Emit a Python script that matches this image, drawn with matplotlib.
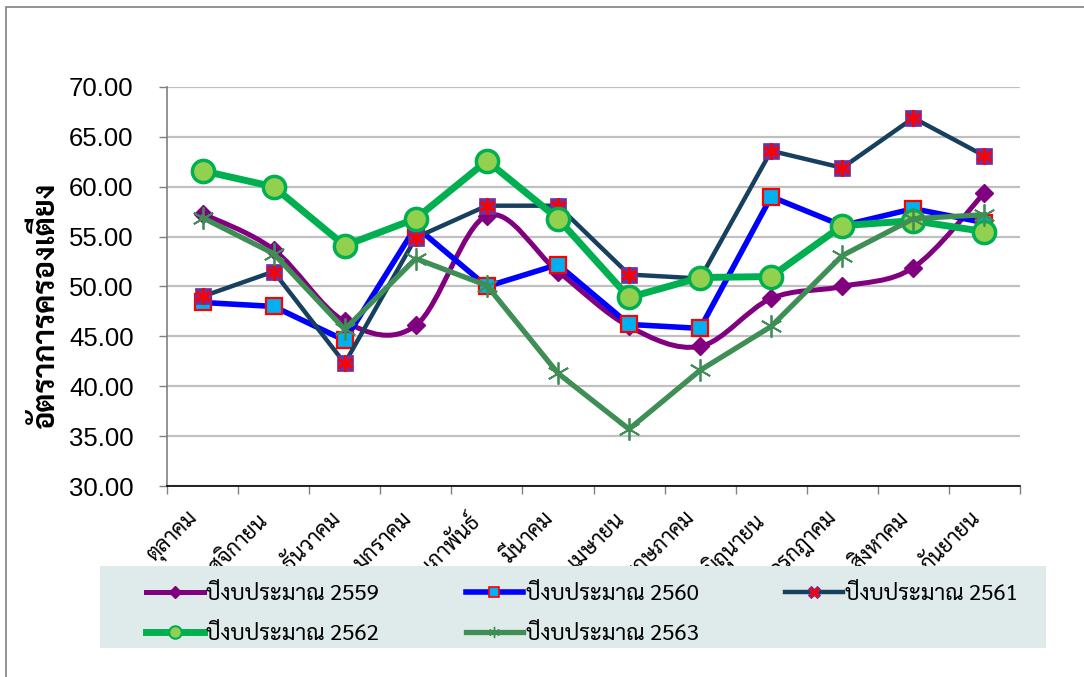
import matplotlib
matplotlib.use("Agg")
import matplotlib.pyplot as plt
from matplotlib.path import Path
from matplotlib.patches import PathPatch, Rectangle
from matplotlib.lines import Line2D
import numpy as np

months = ['ตุลาคม', 'พฤศจิกายน', 'ธันวาคม', 'มกราคม', 'กุมภาพันธ์', 'มีนาคม',
          'เมษายน', 'พฤษภาคม', 'มิถุนายน', 'กรกฎาคม', 'สิงหาคม', 'กันยายน']
y2559 = [57.3, 53.7, 46.5, 46.1, 57.1, 51.5, 46.0, 44.0, 48.8, 50.0, 51.9, 59.4]
y2560 = [48.4, 48.0, 44.6, 56.0, 50.0, 52.2, 46.2, 45.8, 59.0, 56.1, 57.8, 56.4]
y2561 = [49.0, 51.5, 42.3, 54.9, 58.1, 58.1, 51.2, 50.8, 63.6, 61.9, 66.9, 63.1]
y2562 = [61.6, 60.0, 54.1, 56.8, 62.6, 56.8, 48.9, 50.9, 51.0, 56.1, 56.6, 55.5]
y2563 = [56.9, 53.3, 45.7, 52.8, 50.1, 41.3, 35.7, 41.6, 46.0, 53.1, 56.8, 57.2]
labels = ['ปีงบประมาณ 2559', 'ปีงบประมาณ 2560', 'ปีงบประมาณ 2561',
          'ปีงบประมาณ 2562', 'ปีงบประมาณ 2563']
y_label = 'อัตราการครองเตียง'
y_ticks = [30, 35, 40, 45, 50, 55, 60, 65, 70]

thai_text = ['Sarabun', 'Noto Sans Thai Looped', 'DejaVu Sans']

fig = plt.figure(figsize=(10.84, 6.77), dpi=100)
fig.patch.set_facecolor('white')
ax = fig.add_axes([167/1084, 1-486/677, (1020-167)/1084, (486-87)/677])

x = np.arange(len(months))

# smooth purple series (Catmull-Rom bezier path, like Excel's smoothed line)
P = np.column_stack([x, y2559]).astype(float)
verts = [tuple(P[0])]
codes = [Path.MOVETO]
n = len(P)
for i in range(n - 1):
    p0 = P[i - 1] if i > 0 else P[i]
    p1 = P[i]
    p2 = P[i + 1]
    p3 = P[i + 2] if i + 2 < n else P[i + 1]
    c1 = p1 + (p2 - p0) / 6.0
    c2 = p2 - (p3 - p1) / 6.0
    verts += [tuple(c1), tuple(c2), tuple(p2)]
    codes += [Path.CURVE4] * 3
ax.add_patch(PathPatch(Path(verts, codes), fill=False, edgecolor='#800080', lw=3.6,
                       zorder=3, capstyle='round'))
ax.plot(x, y2559, ls='none', marker='D', ms=9, color='#800080', zorder=3.1)

ax.plot(x, y2560, color='#0000FF', lw=4, marker='s', ms=11, mfc='#00B0F0', mec='#FF0000',
        mew=1.6, zorder=4)

ax.plot(x, y2561, color='#17405E', lw=3.2, marker='s', ms=11, mfc='#7030A0', mec='#7030A0',
        mew=0.5, zorder=5)
ax.plot(x, y2561, ls='none', marker=(6, 2, 0), ms=12, mec='#FF0000', mew=2, zorder=5.1)

ax.plot(x, y2562, color='#00B050', lw=5, marker='o', ms=16, mfc='#92D050', mec='#00B050',
        mew=2.5, zorder=6)

ax.plot(x, y2563, color='#3F8E55', lw=3.8, marker=(6, 2, 0), ms=16, mec='#3F8E55',
        mew=1.3, zorder=7)

ax.set_xlim(-0.5, len(months) - 0.5)
ax.set_ylim(30, 70)
ax.set_yticks(y_ticks)
ax.set_yticklabels([f'{v:.2f}' for v in y_ticks], fontsize=18.5, family='Liberation Sans')
ax.yaxis.grid(True, color='#C0C0C0', lw=1.6)
ax.set_axisbelow(True)
ax.tick_params(axis='y', direction='out', length=6, width=1, color='#808080', pad=18)

ax.set_xticks(np.arange(len(months) + 1) - 0.5)
ax.set_xticklabels([])
ax.tick_params(axis='x', which='major', direction='out', length=6, width=1, color='#808080')
ax.set_xticks(x, minor=True)
ax.set_xticklabels(months, minor=True, rotation=45, ha='right', va='top',
                   fontsize=15.5, family=thai_text)
ax.tick_params(axis='x', which='minor', length=0, pad=16)
for lbl in ax.get_xticklabels(minor=True):
    lbl.set_x(lbl.get_position()[0])

for s in ['top', 'right']:
    ax.spines[s].set_visible(False)
ax.spines['left'].set_color('#808080')
ax.spines['bottom'].set_color('#000000')
ax.spines['left'].set_linewidth(1.2)
ax.spines['bottom'].set_linewidth(1.2)

fig.text(46/1084, 1-305/677, y_label, rotation=90, ha='center', va='center',
         fontsize=22, fontweight='bold', family=thai_text)

# legend background
fig.patches.append(Rectangle((100/1084, 1-648/677), (1046-100)/1084, (648-566)/677,
                             transform=fig.transFigure, facecolor='#DFEAEA',
                             edgecolor='none', zorder=5))
# figure border
fig.patches.append(Rectangle((6/1084, -0.1), 2, 1.1 - 7/677, transform=fig.transFigure,
                             facecolor='none', edgecolor='#808080', lw=1.2, zorder=10,
                             clip_on=False))

h = [
    Line2D([], [], color='#800080', lw=3.6, marker='D', ms=6, mfc='#800080', mec='#800080'),
    Line2D([], [], color='#0000FF', lw=4, marker='s', ms=7, mfc='#00B0F0', mec='#FF0000', mew=1.2),
    Line2D([], [], color='#17405E', lw=3.2, marker='X', ms=8, mfc='#FF0000', mec='#7030A0', mew=0.8),
    Line2D([], [], color='#00B050', lw=5, marker='o', ms=9, mfc='#92D050', mec='#00B050', mew=1.5),
    Line2D([], [], color='#3F8E55', lw=3.8, marker=(6, 2, 0), ms=8, mec='#3F8E55', mew=1),
]
order = [0, 3, 1, 4, 2]
leg = fig.legend([h[i] for i in order], [labels[i] for i in order], ncol=3,
                 loc='upper left', bbox_to_anchor=(146/1084, 1-584/677),
                 frameon=False, prop={'family': thai_text, 'size': 16},
                 handlelength=2.6, handletextpad=0.1, columnspacing=3.9,
                 labelspacing=0.85, borderaxespad=0, borderpad=0)
leg.set_zorder(6)

fig.savefig('out.png', dpi=100)
